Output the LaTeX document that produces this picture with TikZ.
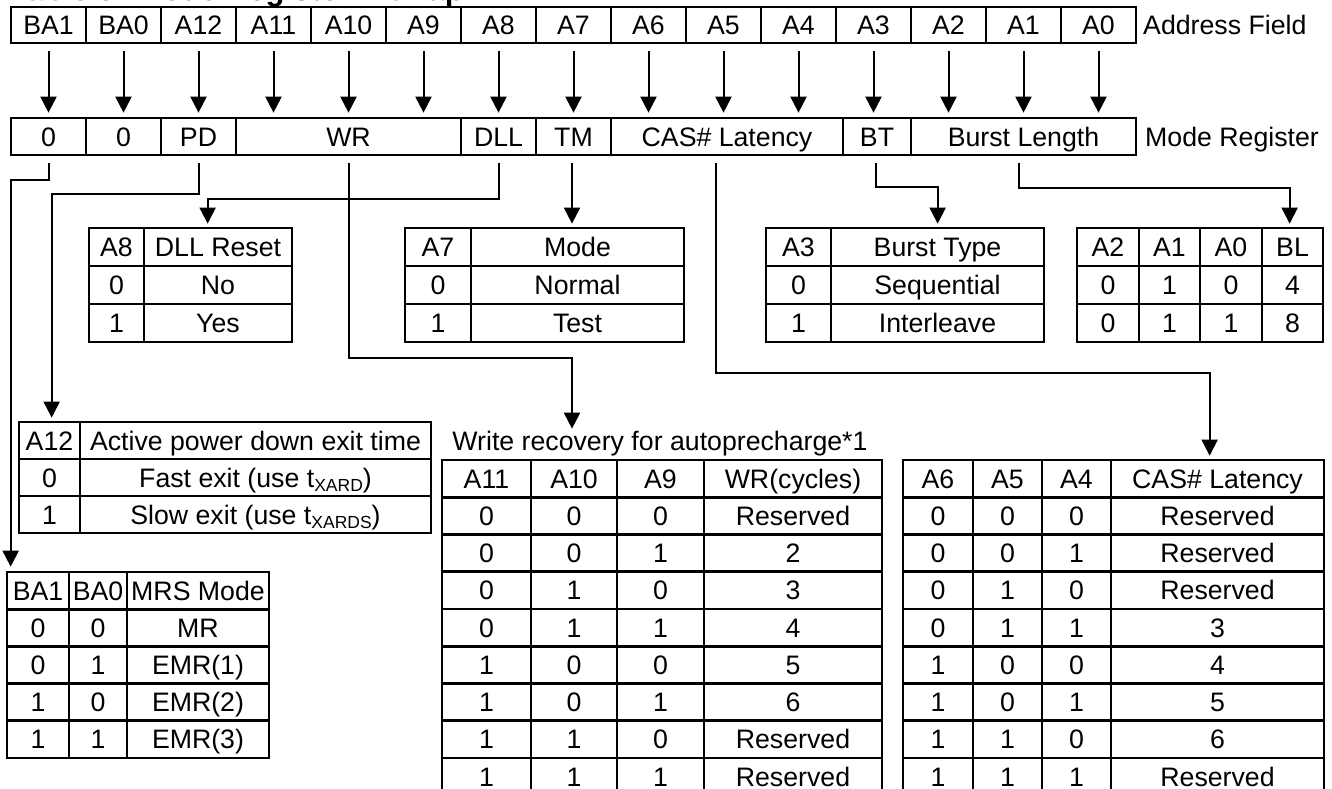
\documentclass[tikz,border=0pt]{standalone}
\usepackage{fontspec}
\setmainfont{Liberation Sans}
\usetikzlibrary{arrows.meta,calc}
\newcommand\cel[6]{%
  \pgfmathsetmacro\cwid{(#3)-(#2)}%
  \pgfmathsetmacro\chgt{(#5)-(#4)}%
  \pgfmathsetmacro\cxm{((#2)+(#3))/2}%
  \pgfmathsetmacro\cym{((#4)+(#5))/2}%
  \node[cell, minimum width=\cwid pt, minimum height=\chgt pt] (#1) at (\cxm,\cym) {#6};}
\newcommand\sbs[1]{\raisebox{-4pt}{\fontsize{17.5}{17.5}\selectfont #1}}
\begin{document}
\begin{tikzpicture}[x=1pt,y=-1pt,
  fnt/.style={font=\fontsize{26.7}{31}\selectfont},
  cell/.style={draw, line width=2.7pt, inner sep=0pt, text height=19.2pt, text depth=0.1pt, fnt},
  lbl/.style={inner sep=0pt, text height=19.2pt, text depth=0.1pt, fnt},
  conn/.style={line width=2pt},
  arr/.style={conn, -{Triangle[width=16pt,length=16pt]}},
]
\useasboundingbox (0,0) rectangle (1332,789);
\clip (0,0) rectangle (1332,789);

% title (cut off at the top)
\node[anchor=base west, inner sep=0pt, font=\bfseries\fontsize{31}{36}\selectfont] (title) at (10,1) {Table 5: Mode Register Bitmap};

% mode register row
\foreach \t/\xa/\xb [count=\i from 0] in {0/11/86,0/86/161,PD/161/236,WR/236/461,DLL/461/536,TM/536/611,CAS\# Latency/611/843,BT/843/911,Burst Length/911/1136}{
  \cel{m\i}{\xa}{\xb}{118}{155}{\t}
}

% address row with arrows
\foreach \t/\j [count=\i from 0] in {BA1/0,BA0/1,A12/2,A11/3,A10/3,A9/3,A8/4,A7/5,A6/6,A5/6,A4/6,A3/7,A2/8,A1/8,A0/8}{
  \pgfmathsetmacro\xa{11+75*\i}\pgfmathsetmacro\xb{86+75*\i}
  \cel{a\i}{\xa}{\xb}{7}{43}{\t}
  \draw[arr] ($(a\i.south)+(0,7)$) -- ($(a\i.south |- m\j.north)+(0,-4)$);
}

\node[lbl, anchor=west] (afl) at (1143,25) {Address Field};
\node[lbl, anchor=west] (mrl) at (1145,136.5) {Mode Register};

% DLL table
\foreach \p/\q [count=\i from 0] in {A8/DLL Reset,0/No,1/Yes}{
  \pgfmathsetmacro\ya{228+38*\i}\pgfmathsetmacro\yb{266+38*\i}
  \cel{dll\i-a}{89}{144}{\ya}{\yb}{\p}
  \cel{dll\i-b}{144}{292}{\ya}{\yb}{\q}
}
% Mode table
\foreach \p/\q [count=\i from 0] in {A7/Mode,0/Normal,1/Test}{
  \pgfmathsetmacro\ya{228+38*\i}\pgfmathsetmacro\yb{266+38*\i}
  \cel{mode\i-a}{405}{471}{\ya}{\yb}{\p}
  \cel{mode\i-b}{471}{684}{\ya}{\yb}{\q}
}
% Burst type table
\foreach \p/\q [count=\i from 0] in {A3/Burst Type,0/Sequential,1/Interleave}{
  \pgfmathsetmacro\ya{228+38*\i}\pgfmathsetmacro\yb{266+38*\i}
  \cel{bt\i-a}{766}{831}{\ya}{\yb}{\p}
  \cel{bt\i-b}{831}{1044}{\ya}{\yb}{\q}
}
% Burst length table
\foreach \p/\q/\r/\s [count=\i from 0] in {A2/A1/A0/BL,0/1/0/4,0/1/1/8}{
  \pgfmathsetmacro\ya{228+38*\i}\pgfmathsetmacro\yb{266+38*\i}
  \cel{bl\i-a}{1077}{1139}{\ya}{\yb}{\p}
  \cel{bl\i-b}{1139}{1200}{\ya}{\yb}{\q}
  \cel{bl\i-c}{1200}{1262}{\ya}{\yb}{\r}
  \cel{bl\i-d}{1262}{1323}{\ya}{\yb}{\s}
}
% A12 table
\cel{pd0-a}{19}{80}{422}{459}{A12}
\cel{pd0-b}{80}{431}{422}{459}{Active power down exit time}
\cel{pd1-a}{19}{80}{459}{496}{0}
\cel{pd1-b}{80}{431}{459}{496}{Fast exit (use t\sbs{XARD})}
\cel{pd2-a}{19}{80}{496}{533}{1}
\cel{pd2-b}{80}{431}{496}{533}{Slow exit (use t\sbs{XARDS})}

% MRS table
\foreach \p/\q/\r [count=\i from 0] in {BA1/BA0/MRS Mode,0/0/MR,0/1/EMR(1),1/0/EMR(2),1/1/EMR(3)}{
  \pgfmathsetmacro\ya{572+37.2*\i}\pgfmathsetmacro\yb{609.2+37.2*\i}
  \cel{mrs\i-a}{7}{69}{\ya}{\yb}{\p}
  \cel{mrs\i-b}{69}{127}{\ya}{\yb}{\q}
  \cel{mrs\i-c}{127}{269}{\ya}{\yb}{\r}
}

% Write recovery table
\node[lbl] (wrcap) at (660,440.5) {Write recovery for autoprecharge*1};
\foreach \p/\q/\r/\s [count=\i from 0] in {A11/A10/A9/WR(cycles),0/0/0/Reserved,0/0/1/2,0/1/0/3,0/1/1/4,1/0/0/5,1/0/1/6,1/1/0/Reserved,1/1/1/Reserved}{
  \pgfmathsetmacro\ya{460+37.25*\i}\pgfmathsetmacro\yb{497.25+37.25*\i}
  \cel{wr\i-a}{442}{531}{\ya}{\yb}{\p}
  \cel{wr\i-b}{531}{617}{\ya}{\yb}{\q}
  \cel{wr\i-c}{617}{704}{\ya}{\yb}{\r}
  \cel{wr\i-d}{704}{882}{\ya}{\yb}{\s}
}
% CAS latency table
\foreach \p/\q/\r/\s [count=\i from 0] in {A6/A5/A4/CAS\# Latency,0/0/0/Reserved,0/0/1/Reserved,0/1/0/Reserved,0/1/1/3,1/0/0/4,1/0/1/5,1/1/0/6,1/1/1/Reserved}{
  \pgfmathsetmacro\ya{460+37.25*\i}\pgfmathsetmacro\yb{497.25+37.25*\i}
  \cel{cas\i-a}{903}{973}{\ya}{\yb}{\p}
  \cel{cas\i-b}{973}{1042}{\ya}{\yb}{\q}
  \cel{cas\i-c}{1042}{1111}{\ya}{\yb}{\r}
  \cel{cas\i-d}{1111}{1324}{\ya}{\yb}{\s}
}

% connectors from the mode register
\draw[arr] ($(m0.south)+(0,7)$) -- ++(0,17) -| ($(mrs0-a.north west)+(5,-4)$);
\draw[arr] ($(m2.south)+(0,7)$) -- ++(0,31) -| ($(pd0-a.north west)+(34,-3)$);
\draw[arr] ($(m4.south)+(0,7)$) -- ++(0,36) -| ($(dll0-b.north west)+(65,-3)$);
\draw[arr] ($(m5.south)+(-1.5,7)$) -- ($(m5.south |- mode0-b.north)+(-1.5,-3)$);
\draw[arr] ($(m3.south)+(0,7)$) -- ++(0,195) -| ($(wrcap.north)+(-88,-2)$);
\draw[arr] ($(m6.south)+(-11,7)$) -- ++(0,210) -| ($(cas0-d.north west)+(100,-3)$);
\draw[arr] ($(m7.south)+(-1,7)$) -- ++(0,24) -| ($(bt0-b.north west)+(108,-3)$);
\draw[arr] ($(m8.south)+(-4.5,7)$) -- ++(0,25) -| ($(bl0-d.north west)+(29,-3)$);
\end{tikzpicture}
\end{document}
